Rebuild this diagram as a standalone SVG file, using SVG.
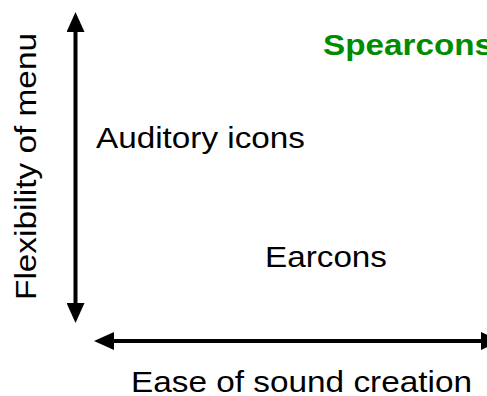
<svg xmlns="http://www.w3.org/2000/svg" width="487" height="396" viewBox="0 0 487 396">
<style>
.t{font-family:"Liberation Sans",Arial,sans-serif;font-size:29px;fill:#000}
.g{font-family:"Liberation Sans",Arial,sans-serif;font-size:29px;font-weight:bold;fill:#008c00}
.ax{stroke:#000;stroke-width:4;fill:none}
</style>
<defs>
<marker id="ah" markerUnits="userSpaceOnUse" markerWidth="22" markerHeight="18" refX="0" refY="9" orient="auto-start-reverse">
<path d="M0,0 L20,9 L0,18 Z" fill="#000"/>
</marker>
</defs>
<rect width="487" height="396" fill="#fff"/>
<g id="connectors">
<line class="ax" x1="75.5" y1="32" x2="75.5" y2="303" marker-start="url(#ah)" marker-end="url(#ah)"/>
<line class="ax" x1="114" y1="341" x2="481" y2="341" marker-start="url(#ah)" marker-end="url(#ah)"/>
</g>
<g id="spearcons"><text class="g" x="323" y="55" textLength="170" lengthAdjust="spacingAndGlyphs">Spearcons</text></g>
<g id="auditory-icons"><text class="t" x="96" y="148" textLength="209" lengthAdjust="spacingAndGlyphs">Auditory icons</text></g>
<g id="earcons"><text class="t" x="265" y="267" textLength="122" lengthAdjust="spacingAndGlyphs">Earcons</text></g>
<g id="x-label"><text class="t" x="131" y="392" textLength="341" lengthAdjust="spacingAndGlyphs">Ease of sound creation</text></g>
<g id="y-label"><text class="t" transform="translate(36,300) rotate(-90)" textLength="267" lengthAdjust="spacingAndGlyphs">Flexibility of menu</text></g>
</svg>
